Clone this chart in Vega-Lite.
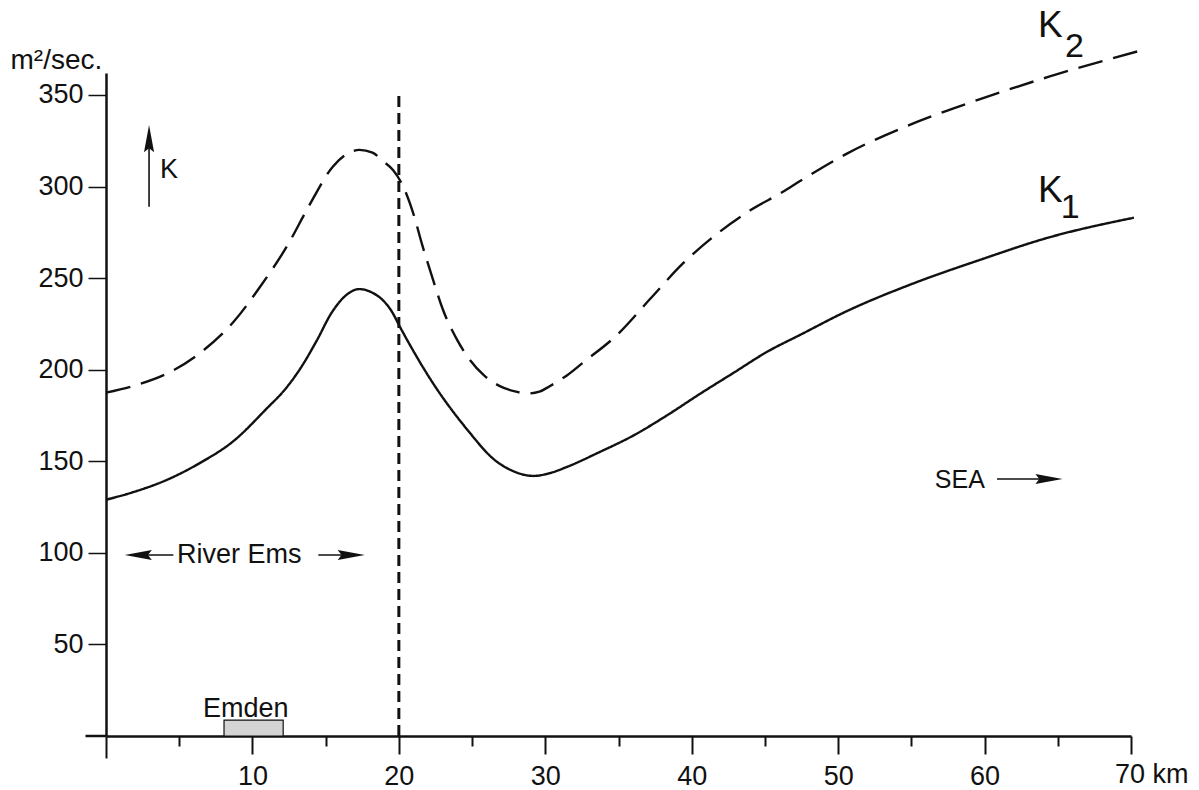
{
  "$schema": "https://vega.github.io/schema/vega-lite/v6.json",
  "autosize": "none",
  "width": 1025,
  "height": 663,
  "padding": {"left": 106, "top": 73, "right": 68, "bottom": 54},
  "background": "white",
  "config": {
    "view": {"stroke": null},
    "font": "Liberation Sans",
    "text": {"font": "Liberation Sans", "color": "#111"}
  },
  "datasets": {
    "curves": [
      {"km": 0, "K": 129, "series": "K1"},
      {"km": 1.8, "K": 133, "series": "K1"},
      {"km": 4.2, "K": 140, "series": "K1"},
      {"km": 6.4, "K": 149, "series": "K1"},
      {"km": 8.7, "K": 161, "series": "K1"},
      {"km": 11.0, "K": 179, "series": "K1"},
      {"km": 12.2, "K": 189, "series": "K1"},
      {"km": 13.3, "K": 201, "series": "K1"},
      {"km": 14.4, "K": 216, "series": "K1"},
      {"km": 15.4, "K": 231, "series": "K1"},
      {"km": 16.3, "K": 240, "series": "K1"},
      {"km": 17.3, "K": 244, "series": "K1"},
      {"km": 18.2, "K": 242, "series": "K1"},
      {"km": 18.9, "K": 238, "series": "K1"},
      {"km": 19.5, "K": 232, "series": "K1"},
      {"km": 20.1, "K": 223, "series": "K1"},
      {"km": 22.3, "K": 193, "series": "K1"},
      {"km": 24.7, "K": 167, "series": "K1"},
      {"km": 26.5, "K": 151, "series": "K1"},
      {"km": 27.7, "K": 145, "series": "K1"},
      {"km": 29.2, "K": 142, "series": "K1"},
      {"km": 30.3, "K": 143.5, "series": "K1"},
      {"km": 31.5, "K": 147, "series": "K1"},
      {"km": 33.7, "K": 155, "series": "K1"},
      {"km": 36.0, "K": 164, "series": "K1"},
      {"km": 38.3, "K": 175, "series": "K1"},
      {"km": 40.6, "K": 187, "series": "K1"},
      {"km": 42.8, "K": 198, "series": "K1"},
      {"km": 45.2, "K": 210, "series": "K1"},
      {"km": 47.4, "K": 219, "series": "K1"},
      {"km": 50.6, "K": 232, "series": "K1"},
      {"km": 55.1, "K": 247, "series": "K1"},
      {"km": 59.7, "K": 260, "series": "K1"},
      {"km": 64.3, "K": 272, "series": "K1"},
      {"km": 70.2, "K": 283, "series": "K1"},
      {"km": 0, "K": 187.5, "series": "K2"},
      {"km": 1.8, "K": 191, "series": "K2"},
      {"km": 4.2, "K": 198, "series": "K2"},
      {"km": 6.4, "K": 209, "series": "K2"},
      {"km": 8.7, "K": 226, "series": "K2"},
      {"km": 10.5, "K": 245, "series": "K2"},
      {"km": 12.4, "K": 268, "series": "K2"},
      {"km": 13.9, "K": 290, "series": "K2"},
      {"km": 15.5, "K": 311, "series": "K2"},
      {"km": 16.5, "K": 318, "series": "K2"},
      {"km": 17.3, "K": 320, "series": "K2"},
      {"km": 18.2, "K": 318.5, "series": "K2"},
      {"km": 18.9, "K": 314, "series": "K2"},
      {"km": 19.6, "K": 309, "series": "K2"},
      {"km": 20.3, "K": 300, "series": "K2"},
      {"km": 21.0, "K": 285, "series": "K2"},
      {"km": 21.6, "K": 268, "series": "K2"},
      {"km": 22.3, "K": 250, "series": "K2"},
      {"km": 23.0, "K": 233, "series": "K2"},
      {"km": 24.0, "K": 216, "series": "K2"},
      {"km": 24.7, "K": 207, "series": "K2"},
      {"km": 25.8, "K": 197, "series": "K2"},
      {"km": 26.9, "K": 191, "series": "K2"},
      {"km": 28.0, "K": 188, "series": "K2"},
      {"km": 28.8, "K": 187, "series": "K2"},
      {"km": 29.6, "K": 188, "series": "K2"},
      {"km": 30.3, "K": 191, "series": "K2"},
      {"km": 31.5, "K": 197, "series": "K2"},
      {"km": 32.6, "K": 204, "series": "K2"},
      {"km": 34.9, "K": 219, "series": "K2"},
      {"km": 37.2, "K": 239, "series": "K2"},
      {"km": 39.4, "K": 258, "series": "K2"},
      {"km": 41.7, "K": 274, "series": "K2"},
      {"km": 44.0, "K": 287, "series": "K2"},
      {"km": 46.2, "K": 297, "series": "K2"},
      {"km": 47.4, "K": 303, "series": "K2"},
      {"km": 50.6, "K": 318, "series": "K2"},
      {"km": 55.3, "K": 335, "series": "K2"},
      {"km": 59.8, "K": 348, "series": "K2"},
      {"km": 64.4, "K": 360, "series": "K2"},
      {"km": 71.0, "K": 375, "series": "K2"}
    ]
  },
  "layer": [
    {
      "data": {"name": "curves"},
      "mark": {"type": "line", "color": "#111", "strokeWidth": 2.4, "interpolate": "monotone", "clip": false},
      "encoding": {
        "x": {
          "field": "km", "type": "quantitative",
          "scale": {"domain": [0, 70], "nice": false, "zero": false},
          "axis": {
            "title": null,
            "grid": false,
            "values": [0, 5, 10, 15, 20, 25, 30, 35, 40, 45, 50, 55, 60, 65, 70],
            "labelExpr": "datum.value % 10 === 0 && datum.value > 0 && datum.value < 70 ? datum.label : ''",
            "domainColor": "#111", "domainWidth": 2.5,
            "tickColor": "#111", "tickWidth": 2,
            "tickSize": {"condition": [{"test": "datum.value === 0", "value": 22}, {"test": "datum.value % 10 === 0", "value": 18}], "value": 10},
            "labelFont": "Liberation Sans", "labelFontSize": 27, "labelColor": "#111",
            "labelPadding": 9, "labelFlush": false
          }
        },
        "y": {
          "field": "K", "type": "quantitative",
          "scale": {"domain": [0, 362], "nice": false, "zero": false},
          "axis": {
            "title": "m²/sec.",
            "titleAngle": 0, "titleAlign": "left", "titleBaseline": "alphabetic",
            "titleX": -96, "titleY": -5,
            "titleFont": "Liberation Sans", "titleFontSize": 28, "titleFontWeight": "normal", "titleColor": "#111",
            "grid": false,
            "values": [50, 100, 150, 200, 250, 300, 350],
            "domainColor": "#111", "domainWidth": 2.5,
            "tickColor": "#111", "tickWidth": 1.5, "tickSize": 18,
            "labelFont": "Liberation Sans", "labelFontSize": 27, "labelColor": "#111",
            "labelPadding": 5
          }
        },
        "strokeDash": {
          "field": "series", "type": "nominal",
          "scale": {"domain": ["K1", "K2"], "range": [[1, 0], [25, 11]]},
          "legend": null
        }
      }
    },
    {
      "data": {"values": [{"km": 20, "lo": 0, "hi": 351}]},
      "mark": {"type": "rule", "color": "#111", "strokeWidth": 3, "strokeDash": [11, 6], "clip": false},
      "encoding": {
        "x": {"field": "km", "type": "quantitative"},
        "y": {"field": "lo", "type": "quantitative"},
        "y2": {"field": "hi"}
      }
    },
    {
      "data": {"values": [{"km": -1.4, "km2": 0, "v": 0}]},
      "mark": {"type": "rule", "color": "#111", "strokeWidth": 2.5, "clip": false},
      "encoding": {
        "x": {"field": "km", "type": "quantitative"},
        "x2": {"field": "km2"},
        "y": {"field": "v", "type": "quantitative"}
      }
    },
    {
      "data": {"values": [{"km": 8.06, "km2": 12.1, "v": 0, "v2": 8.7}]},
      "mark": {"type": "rect", "fill": "#d4d4d4", "stroke": "#111", "strokeWidth": 1.2},
      "encoding": {
        "x": {"field": "km", "type": "quantitative"},
        "x2": {"field": "km2"},
        "y": {"field": "v", "type": "quantitative"},
        "y2": {"field": "v2"}
      }
    },
    {
      "data": {"values": [
        {"km": 2.94, "km2": 2.94, "v": 289, "v2": 322},
        {"km": 2.1, "km2": 4.6, "v": 98.8, "v2": 98.8},
        {"km": 14.5, "km2": 16.8, "v": 98.8, "v2": 98.8},
        {"km": 60.85, "km2": 64.7, "v": 140.3, "v2": 140.3}
      ]},
      "mark": {"type": "rule", "color": "#111", "strokeWidth": 1.6},
      "encoding": {
        "x": {"field": "km", "type": "quantitative"},
        "x2": {"field": "km2"},
        "y": {"field": "v", "type": "quantitative"},
        "y2": {"field": "v2"}
      }
    },
    {
      "data": {"values": [
        {"km": 2.94, "v": 323, "dir": 0},
        {"km": 2.6, "v": 98.8, "dir": 270},
        {"km": 16.35, "v": 98.8, "dir": 90},
        {"km": 64.0, "v": 140.3, "dir": 90}
      ]},
      "mark": {"type": "point", "filled": true, "color": "#111", "opacity": 1, "size": 1500,
               "shape": "M0,-1L0.26,0.4L0,0.2L-0.26,0.4Z"},
      "encoding": {
        "x": {"field": "km", "type": "quantitative"},
        "y": {"field": "v", "type": "quantitative"},
        "angle": {"field": "dir", "type": "quantitative", "scale": null}
      }
    },
    {
      "data": {"values": [
        {"km": 63.65, "v": 381.6, "t": "K"},
        {"km": 63.65, "v": 291.6, "t": "K"}
      ]},
      "mark": {"type": "text", "align": "left", "baseline": "alphabetic", "fontSize": 37, "clip": false},
      "encoding": {
        "x": {"field": "km", "type": "quantitative"},
        "y": {"field": "v", "type": "quantitative"},
        "text": {"field": "t"}
      }
    },
    {
      "data": {"values": [
        {"km": 65.5, "v": 370.7, "t": "2"},
        {"km": 65.2, "v": 282.8, "t": "1"}
      ]},
      "mark": {"type": "text", "align": "left", "baseline": "alphabetic", "fontSize": 34, "clip": false},
      "encoding": {
        "x": {"field": "km", "type": "quantitative"},
        "y": {"field": "v", "type": "quantitative"},
        "text": {"field": "t"}
      }
    },
    {
      "data": {"values": [
        {"km": 3.69, "v": 304.7, "t": "K"},
        {"km": 4.85, "v": 94.5, "t": "River Ems"},
        {"km": 6.63, "v": 10.4, "t": "Emden"},
        {"km": 68.9, "v": -25.7, "t": "70 km"}
      ]},
      "mark": {"type": "text", "align": "left", "baseline": "alphabetic", "fontSize": 27, "clip": false},
      "encoding": {
        "x": {"field": "km", "type": "quantitative"},
        "y": {"field": "v", "type": "quantitative"},
        "text": {"field": "t"}
      }
    },
    {
      "data": {"values": [
        {"km": 56.6, "v": 135.4, "t": "SEA"}
      ]},
      "mark": {"type": "text", "align": "left", "baseline": "alphabetic", "fontSize": 25, "clip": false},
      "encoding": {
        "x": {"field": "km", "type": "quantitative"},
        "y": {"field": "v", "type": "quantitative"},
        "text": {"field": "t"}
      }
    }
  ]
}
